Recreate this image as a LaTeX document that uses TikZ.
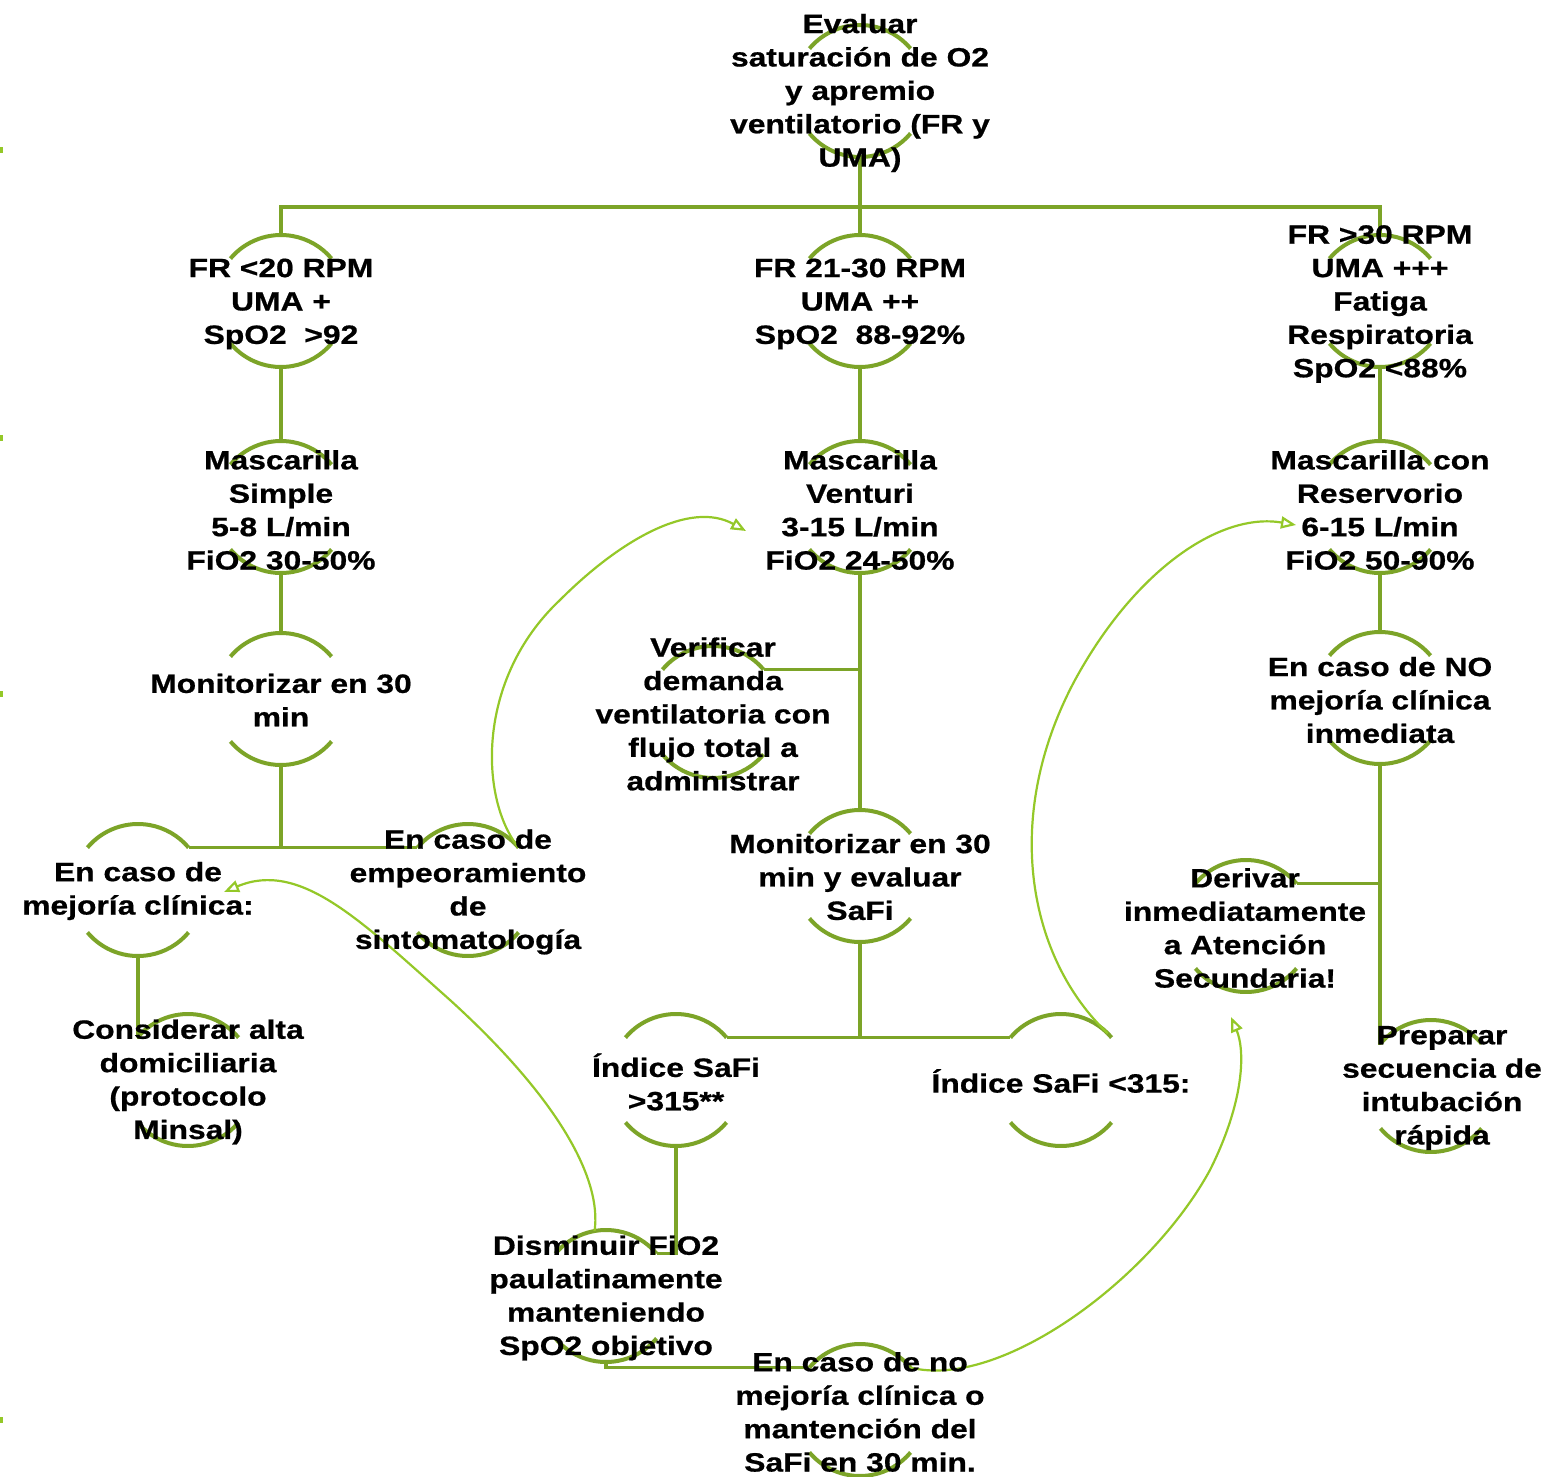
\documentclass[tikz,border=0pt]{standalone}
\usepackage{fontspec}
\setmainfont[FakeStretch=1.2,BoldFeatures={FakeBold=0.7}]{Liberation Sans}
\usetikzlibrary{arrows.meta}
\pgfdeclarelayer{paper}
\pgfdeclarelayer{bg}
\pgfsetlayers{paper,bg,main}
\definecolor{ringgreen}{RGB}{124,164,40}
\definecolor{loopgreen}{RGB}{148,200,40}
\tikzset{
  ring/.style={draw=none, circle, minimum size=132pt, inner sep=0pt, outer sep=0pt},
  arcline/.style={draw=ringgreen, line width=4pt},
  link/.style={draw=ringgreen, line width=3.6pt},
  loop/.style={draw=loopgreen, line width=2.2pt, -{Triangle[open,length=15pt,width=12pt]}},
  txt/.style={font=\bfseries\fontsize{26.5}{33.4}\selectfont, align=center, inner sep=0pt, text=black}
}
% ring: an invisible circle whose upper and lower arcs are drawn
\newcommand\ringat[3]{%
  \node[ring] (#1) at (#2,#3) {};
  \begin{pgfonlayer}{bg}
    \draw[arcline] (#1.140) arc[start angle=140,end angle=40,radius=66pt];
    \draw[arcline] (#1.220) arc[start angle=220,end angle=320,radius=66pt];
  \end{pgfonlayer}}
\begin{document}
\begin{tikzpicture}[x=1pt,y=-1pt]
\begin{pgfonlayer}{paper}
  \fill[white] (0,0) rectangle (1551,1477);
\end{pgfonlayer}
\useasboundingbox (0,0) rectangle (1551,1477);

% small marks on the left edge
\foreach \yy in {150,438,694,1420}
  \fill[loopgreen] (0,\yy-3) rectangle (2.5,\yy+3);

% rings
\ringat{eval}{860}{91}
\ringat{fr1}{281}{301}
\ringat{fr2}{860}{301}
\ringat{fr3}{1380}{301}
\ringat{mas1}{281}{507}
\ringat{mas2}{860}{507}
\ringat{mas3}{1380}{507}
\ringat{mon1}{281}{699}
\ringat{verif}{713}{712}
\ringat{nomej}{1380}{698}
\ringat{mejor}{138}{890}
\ringat{empeor}{468}{890}
\ringat{mon2}{860}{876}
\ringat{deriv}{1246}{926}
\ringat{alta}{188}{1080}
\ringat{safiA}{676}{1080}
\ringat{safiB}{1061}{1080}
\ringat{intub}{1431}{1086}
\ringat{dismin}{606}{1296}
\ringat{nomejB}{860}{1410}

% texts
\node[txt] (eval-t) at (860,93) {Evaluar\\saturación de O2\\y apremio\\ventilatorio (FR y\\UMA)};
\node[txt] (fr1-t) at (281,304) {FR <20 RPM\\UMA +\\SpO2~ >92};
\node[txt] (fr2-t) at (860,304) {FR 21-30 RPM\\UMA ++\\SpO2~ 88-92\%};
\node[txt] (fr3-t) at (1380,304) {FR >30 RPM\\UMA +++\\Fatiga\\Respiratoria\\SpO2 <88\%};
\node[txt] (mas1-t) at (281,510) {Mascarilla\\Simple\\5-8 L/min\\FiO2 30-50\%};
\node[txt] (mas2-t) at (860,510) {Mascarilla\\Venturi\\3-15 L/min\\FiO2 24-50\%};
\node[txt] (mas3-t) at (1380,510) {Mascarilla con\\Reservorio\\6-15 L/min\\FiO2 50-90\%};
\node[txt] (mon1-t) at (281,700) {Monitorizar en 30\\min};
\node[txt] (verif-t) at (713,714) {Verificar\\demanda\\ventilatoria con\\flujo total a\\administrar};
\node[txt] (nomej-t) at (1380,700) {En caso de NO\\mejoría clínica\\inmediata};
\node[txt] (mejor-t) at (138,891) {En caso de\\mejoría clínica:};
\node[txt] (empeor-t) at (468,892) {En caso de\\empeoramiento\\de\\sintomatología};
\node[txt] (mon2-t) at (860,877) {Monitorizar en 30\\min y evaluar\\SaFi};
\node[txt] (deriv-t) at (1245,928) {Derivar\\inmediatamente\\a Atención\\Secundaria!};
\node[txt] (alta-t) at (188,1082) {Considerar alta\\domiciliaria\\(protocolo\\Minsal)};
\node[txt] (safiA-t) at (676,1082) {Índice SaFi\\>315**};
\node[txt] (safiB-t) at (1061,1081) {Índice SaFi <315:};
\node[txt] (intub-t) at (1442,1088) {Preparar\\secuencia de\\intubación\\rápida};
\node[txt] (dismin-t) at (606,1298) {Disminuir FiO2\\paulatinamente\\manteniendo\\SpO2 objetivo};
\node[txt] (nomejB-t) at (860,1412) {En caso de no\\mejoría clínica o\\mantención del\\SaFi en 30 min.};

\coordinate (bus) at (860,207);
\coordinate (endA) at (746,531);
\coordinate (endB) at (1296,525);
\coordinate (endC) at (224,892);
\coordinate (endD) at (1231,1017);

\begin{pgfonlayer}{bg}
  % hierarchy connectors
  \draw[link] (eval.south) -- (fr2.north);
  \draw[link] (fr1.north) |- (bus) -| (fr3.north);
  \draw[link] (fr1.south) -- (mas1.north);
  \draw[link] (fr2.south) -- (mas2.north);
  \draw[link] (fr3.south) -- (mas3.north);
  \draw[link] (mas1.south) -- (mon1.north);
  \draw[link] (mon1.south) -- (mon1.south |- mejor.40);
  \draw[link] (mejor.40) -- (empeor.140);
  \draw[link] (mas2.south) -- (mon2.north);
  \draw[link] (verif.40) -- (verif.40 -| mas2.south);
  \draw[link] (mas3.south) -- (nomej.north);
  \draw[link] (nomej.south) |- (intub.140);
  \draw[link] (deriv.40) -- (deriv.40 -| nomej.south);
  \draw[link] (mejor.south) |- (alta.140);
  \draw[link] (mon2.south) -- (mon2.south |- safiA.40);
  \draw[link] (safiA.40) -- (safiB.140);
  \draw[link] (safiA.south) |- (dismin.40);
  \draw[link] (dismin.south) |- (nomejB.140);

  % feedback loops
  \draw[loop] (empeor.40) .. controls (480,800) and (475,680) .. (560,600)
              .. controls (620,540) and (690,500) .. (endA);
  \draw[loop] (safiB.45) .. controls (1030,960) and (1000,820) .. (1075,680)
              .. controls (1135,570) and (1220,512) .. (endB);
  \draw[loop] (dismin.100) .. controls (602,1180) and (560,1100) .. (450,1000)
              .. controls (360,920) and (300,860) .. (endC);
  \draw[loop] (nomejB.40) .. controls (1000,1390) and (1150,1280) .. (1210,1170)
              .. controls (1245,1100) and (1245,1050) .. (endD);
\end{pgfonlayer}
\end{tikzpicture}
\end{document}
